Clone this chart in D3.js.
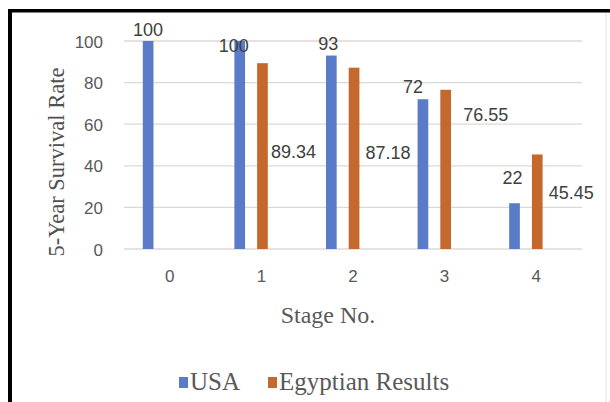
<!DOCTYPE html>
<html>
<head>
<meta charset="utf-8">
<script src="https://cdn.jsdelivr.net/npm/d3@7"></script>
<style>
  html, body { margin: 0; padding: 0; background: #fff; }
  svg { display: block; }
</style>
</head>
<body>
<svg id="chart" width="610" height="402"></svg>
<script>
// ---- data ----
const stages = ["0", "1", "2", "3", "4"];
const seriesNames = ["USA", "Egyptian Results"];
const usaValues = [100, 100, 93, 72, 22];
const egyptValues = [null, 89.34, 87.18, 76.55, 45.45];
const usaLabels = ["100", "100", "93", "72", "22"];
const egyptLabels = ["", "89.34", "87.18", "76.55", "45.45"];
const yTicks = [0, 20, 40, 60, 80, 100];

// ---- label nudges (style, px) relative to bar top centre ----
const usaLabelDx = [0, -6, -3, -10, -2];
const usaLabelDy = [-11, 5, -12, -12, -25];
const egyptLabelDx = [0, 31, 34, 40, 34];
const egyptLabelDy = [0, 89, 85, 25, 39];

const colors = { "USA": "#5a7cc8", "Egyptian Results": "#c4682e" };

const svg = d3.select("#chart");
const W = 610, H = 402;

// frame
svg.append("rect").attr("x", 0).attr("y", 0).attr("width", W).attr("height", H).attr("fill", "#fff");
svg.append("line").attr("x1", 606).attr("x2", 606).attr("y1", 12).attr("y2", H)
  .attr("stroke", "#ececec").attr("stroke-width", 1.5);
svg.append("rect").attr("x", 8).attr("y", 9).attr("width", W - 8).attr("height", 3.5).attr("fill", "#000");
svg.append("rect").attr("x", 8).attr("y", 9).attr("width", 4).attr("height", H - 9).attr("fill", "#000");

const x0 = d3.scaleBand().domain(stages).range([124, 582]).paddingInner(0).paddingOuter(0);
const bw = x0.bandwidth();
const x1 = d3.scaleBand().domain(seriesNames).range([bw * 0.205, bw * 0.57]).paddingInner(0.53).paddingOuter(0);
const y = d3.scaleLinear().domain([0, 100]).range([249, 41]);

// gridlines
svg.append("g").selectAll("line").data(yTicks).join("line")
  .attr("x1", 124).attr("x2", 582)
  .attr("y1", d => y(d)).attr("y2", d => y(d))
  .attr("stroke", "#dcd9d4").attr("stroke-width", 1.3);

// y axis tick labels
const yAxis = d3.axisLeft(y).tickValues(yTicks).tickSize(0).tickPadding(0);
const gy = svg.append("g").attr("transform", "translate(103,0)").call(yAxis);
gy.select(".domain").remove();
gy.selectAll("text").attr("fill", "#595959")
  .style("font-family", "'Liberation Sans', Arial, sans-serif").style("font-size", "17px")
  .attr("dy", "0.36em");

// x axis tick labels
const xAxis = d3.axisBottom(x0).tickSize(0).tickPadding(0);
const gx = svg.append("g").attr("transform", "translate(0,269)").call(xAxis);
gx.select(".domain").remove();
gx.selectAll("text").attr("fill", "#595959")
  .style("font-family", "'Liberation Sans', Arial, sans-serif").style("font-size", "17px")
  .attr("dy", "0.75em");

// bars
const rows = stages.map((s, i) => ({ stage: s, i, usa: usaValues[i], egypt: egyptValues[i] }));
const barG = svg.append("g");
const usaBars = rows.filter(r => r.usa != null);
const egBars = rows.filter(r => r.egypt != null);
barG.selectAll("rect.usa").data(usaBars).join("rect").attr("class", "usa")
  .attr("x", d => x0(d.stage) + x1("USA"))
  .attr("width", x1.bandwidth())
  .attr("y", d => y(d.usa))
  .attr("height", d => y(0) - y(d.usa))
  .attr("fill", colors["USA"]);
barG.selectAll("rect.eg").data(egBars).join("rect").attr("class", "eg")
  .attr("x", d => x0(d.stage) + x1("Egyptian Results"))
  .attr("width", x1.bandwidth())
  .attr("y", d => y(d.egypt))
  .attr("height", d => y(0) - y(d.egypt))
  .attr("fill", colors["Egyptian Results"]);

// data labels
const lblFont = "'Liberation Sans', Arial, sans-serif";
svg.append("g").selectAll("text").data(usaBars).join("text")
  .attr("x", d => x0(d.stage) + x1("USA") + x1.bandwidth() / 2 + usaLabelDx[d.i])
  .attr("y", d => y(d.usa) + usaLabelDy[d.i])
  .attr("text-anchor", "middle").attr("dominant-baseline", "central")
  .attr("fill", "#404040").style("font-family", lblFont).style("font-size", "18px")
  .text(d => usaLabels[d.i]);
svg.append("g").selectAll("text").data(egBars).join("text")
  .attr("x", d => x0(d.stage) + x1("Egyptian Results") + x1.bandwidth() / 2 + egyptLabelDx[d.i])
  .attr("y", d => y(d.egypt) + egyptLabelDy[d.i])
  .attr("text-anchor", "middle").attr("dominant-baseline", "central")
  .attr("fill", "#404040").style("font-family", lblFont).style("font-size", "18px")
  .text(d => egyptLabels[d.i]);

// axis titles
const serif = "'Liberation Serif', 'Times New Roman', serif";
svg.append("text").attr("transform", "translate(64,162) rotate(-90)")
  .attr("text-anchor", "middle").attr("fill", "#505050")
  .style("font-family", serif).style("font-size", "22.5px")
  .text("5-Year Survival Rate");
svg.append("text").attr("x", 328).attr("y", 323)
  .attr("text-anchor", "middle").attr("fill", "#595959")
  .style("font-family", serif).style("font-size", "24px")
  .text("Stage No.");

// legend
const legend = svg.append("g");
const legendX = [179, 268];
seriesNames.forEach((name, i) => {
  legend.append("rect").attr("x", legendX[i]).attr("y", 377).attr("width", 9).attr("height", 11)
    .attr("fill", colors[name]);
  legend.append("text").attr("x", legendX[i] + 11).attr("y", 390)
    .attr("fill", "#595959").style("font-family", serif).style("font-size", "25px")
    .text(name);
});
</script>
</body>
</html>
